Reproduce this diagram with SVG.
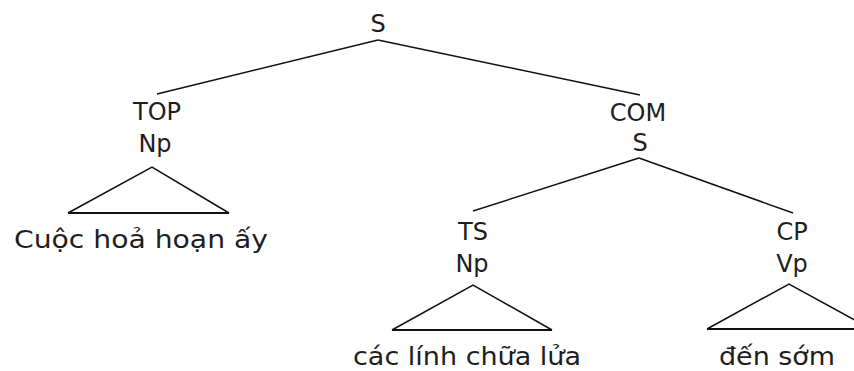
<svg xmlns="http://www.w3.org/2000/svg" width="854" height="371" viewBox="0 0 854 371">
<style>
text{font-family:"DejaVu Sans",Verdana,sans-serif;font-size:24px;fill:#1e1e1e;text-anchor:middle}
.e{stroke:#111;stroke-width:1.5;fill:none}
.b{stroke:#111;stroke-width:2;fill:none}
</style>
<rect width="854" height="371" fill="#fff"/>
<g id="connectors">
<line class="e" x1="378" y1="40" x2="157" y2="94"/>
<line class="e" x1="378" y1="40" x2="640" y2="95"/>
<line class="e" x1="639" y1="158" x2="473" y2="211"/>
<line class="e" x1="639" y1="158" x2="793" y2="213"/>
</g>
<g id="S"><text x="378" y="32">S</text></g>
<g id="TOP"><text x="157" y="120">TOP</text><text x="155" y="152">Np</text></g>
<g id="tri1"><path class="e" d="M68,213 L152,167 L229,213"/><line class="b" x1="68" y1="213" x2="229" y2="213"/></g>
<g id="leaf1"><text x="141" y="248" textLength="254" lengthAdjust="spacingAndGlyphs">Cuộc hoả hoạn ấy</text></g>
<g id="COM"><text x="638" y="121">COM</text><text x="640" y="151">S</text></g>
<g id="TS"><text x="473" y="240">TS</text><text x="472" y="272">Np</text></g>
<g id="tri2"><path class="e" d="M392,330 L473,285 L552,330"/><line class="b" x1="392" y1="330" x2="552" y2="330"/></g>
<g id="leaf2"><text x="467" y="365" textLength="228" lengthAdjust="spacingAndGlyphs">các lính chữa lửa</text></g>
<g id="CP"><text x="792" y="240">CP</text><text x="792" y="272">Vp</text></g>
<g id="tri3"><path class="e" d="M707,329 L789,284 L871,329"/><line class="b" x1="707" y1="329" x2="871" y2="329"/></g>
<g id="leaf3"><text x="777" y="365" textLength="116" lengthAdjust="spacingAndGlyphs">đến sớm</text></g>
</svg>
